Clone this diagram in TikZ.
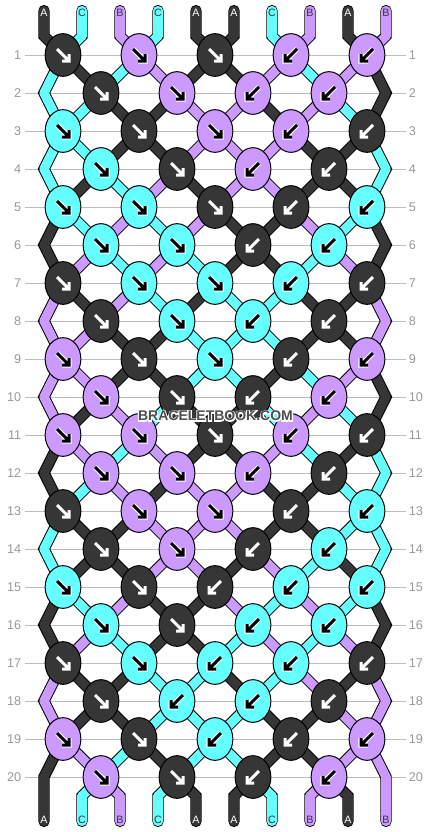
\documentclass[tikz,border=0pt]{standalone}
\usepackage{fontspec}
\setmainfont{Liberation Sans}
\usetikzlibrary{shapes.geometric}

\definecolor{colA}{HTML}{363636}
\definecolor{colB}{HTML}{CC99FF}
\definecolor{colC}{HTML}{66FFFF}
\definecolor{rowgray}{HTML}{BDBDBD}
\definecolor{numgray}{HTML}{999999}
\definecolor{markgray}{HTML}{4E4E4E}

% string order after each row
\expandafter\def\csname st0\endcsname{A,C,B,C,A,A,C,B,A,B}
\expandafter\def\csname st1\endcsname{C,A,C,B,A,A,B,C,B,A}
\expandafter\def\csname st2\endcsname{C,C,A,A,B,B,A,B,C,A}
\expandafter\def\csname st3\endcsname{C,C,A,A,B,B,B,A,A,C}
\expandafter\def\csname st4\endcsname{C,A,C,B,A,B,B,A,A,C}
\expandafter\def\csname st5\endcsname{A,C,B,C,B,A,A,B,C,A}
\expandafter\def\csname st6\endcsname{A,B,C,B,C,A,A,C,B,A}
\expandafter\def\csname st7\endcsname{B,A,B,C,A,C,C,A,A,B}
\expandafter\def\csname st8\endcsname{B,B,A,A,C,C,C,A,A,B}
\expandafter\def\csname st9\endcsname{B,B,A,A,C,C,A,C,B,A}
\expandafter\def\csname st10\endcsname{B,A,B,C,A,A,C,B,C,A}
\expandafter\def\csname st11\endcsname{A,B,C,B,A,A,B,C,A,C}
\expandafter\def\csname st12\endcsname{A,C,B,A,B,B,A,A,C,C}
\expandafter\def\csname st13\endcsname{C,A,A,B,B,B,A,A,C,C}
\expandafter\def\csname st14\endcsname{C,A,A,B,B,A,B,C,A,C}
\expandafter\def\csname st15\endcsname{A,C,B,A,A,B,C,B,C,A}
\expandafter\def\csname st16\endcsname{A,B,C,A,A,C,B,C,B,A}
\expandafter\def\csname st17\endcsname{B,A,A,C,C,A,C,B,A,B}
\expandafter\def\csname st18\endcsname{B,A,A,C,C,C,A,A,B,B}
\expandafter\def\csname st19\endcsname{A,B,C,A,C,C,A,A,B,B}
\expandafter\def\csname st20\endcsname{A,C,B,C,A,A,C,B,A,B}

% knots per row: colour / direction
\expandafter\def\csname kn1\endcsname{A/R,B/R,A/R,B/L,B/L}
\expandafter\def\csname kn2\endcsname{A/R,B/R,B/L,B/L}
\expandafter\def\csname kn3\endcsname{C/R,A/R,B/R,B/L,A/L}
\expandafter\def\csname kn4\endcsname{C/R,A/R,B/L,A/L}
\expandafter\def\csname kn5\endcsname{C/R,C/R,A/R,A/L,C/L}
\expandafter\def\csname kn6\endcsname{C/R,C/R,A/L,C/L}
\expandafter\def\csname kn7\endcsname{A/R,C/R,C/R,C/L,A/L}
\expandafter\def\csname kn8\endcsname{A/R,C/R,C/L,A/L}
\expandafter\def\csname kn9\endcsname{B/R,A/R,C/R,A/L,B/L}
\expandafter\def\csname kn10\endcsname{B/R,A/R,A/L,B/L}
\expandafter\def\csname kn11\endcsname{B/R,B/R,A/R,B/L,A/L}
\expandafter\def\csname kn12\endcsname{B/R,B/R,B/L,A/L}
\expandafter\def\csname kn13\endcsname{A/R,B/R,B/R,A/L,C/L}
\expandafter\def\csname kn14\endcsname{A/R,B/R,A/L,C/L}
\expandafter\def\csname kn15\endcsname{C/R,A/R,A/L,C/L,C/L}
\expandafter\def\csname kn16\endcsname{C/R,A/R,C/L,C/L}
\expandafter\def\csname kn17\endcsname{A/R,C/R,C/L,C/L,A/L}
\expandafter\def\csname kn18\endcsname{A/R,C/L,C/L,A/L}
\expandafter\def\csname kn19\endcsname{B/R,A/R,C/L,A/L,B/L}
\expandafter\def\csname kn20\endcsname{B/R,A/R,A/L,B/L}

\newcommand\marktext{BRACELETBOOK.COM}

\begin{document}
\begin{tikzpicture}[x=0.75pt,y=-0.75pt,
  outl/.style={draw=black,line width=8.4pt,line join=miter,line cap=round},
  seg/.style={line width=6.9pt,line join=miter,line cap=round},
  knot/.style={ellipse,draw=black,line width=0.75pt,minimum width=26.8pt,minimum height=32pt,inner sep=0pt},
  rownum/.style={text=numgray,font=\fontsize{9.5pt}{11pt}\selectfont,inner xsep=2.25pt,inner ysep=0pt},
  rowline/.style={draw=rowgray,line width=0.75pt},
  lbl/.style={font=\fontsize{8pt}{9pt}\selectfont,inner sep=0pt},
  arrline/.style={line width=2.25pt,line join=miter},
  arrhalo/.style={draw=white,line width=3.8pt,line join=miter},
]
\useasboundingbox (0,0) rectangle (430,832);

% position coordinates
\foreach \r in {0,...,21}{
  \foreach \i in {0,...,9}{
    \pgfmathsetmacro\px{(\r==0 || \r==21) ? 44+38*\i : (mod(\r,2)==1 ? 63+76*floor(\i/2) : (\i==0 ? 44 : (\i==9 ? 386 : 101+76*floor((\i-1)/2))))}
    \pgfmathsetmacro\py{\r==0 ? 36 : (\r==21 ? 796 : 55+38*(\r-1))}
    \coordinate (p-\r-\i) at (\px,\py);
  }
}
\foreach \i in {0,...,9}{
  \coordinate (t-\i) at (44+38*\i,10.5);
  \coordinate (b-\i) at (44+38*\i,821.5);
}

% row numbers and guide lines
\foreach \r in {1,...,20}{
  \pgfmathsetmacro\yy{55+38*(\r-1)}
  \node[rownum,anchor=east] (ln-\r) at (24.5,\yy) {\r};
  \node[rownum,anchor=west] (rn-\r) at (405.5,\yy) {\r};
  \draw[rowline] (ln-\r.east) -- (rn-\r.west);
}

% string outlines
\foreach \i in {0,...,9}{
  \draw[outl] (t-\i) -- (p-0-\i) \foreach \r in {1,...,21}{ -- (p-\r-\i)} -- (b-\i);
}

% coloured string segments
\edef\lst{\csname st0\endcsname}
\foreach \sc [count=\i from 0] in \lst {
  \draw[seg,draw=col\sc] (t-\i) -- (p-0-\i);
}
\foreach \r in {0,...,20}{
  \pgfmathtruncatemacro\rn{\r+1}
  \edef\lst{\csname st\r\endcsname}
  \foreach \sc [count=\i from 0] in \lst {
    \draw[seg,draw=col\sc] (p-\r-\i) -- (p-\rn-\i);
  }
}
\edef\lst{\csname st20\endcsname}
\foreach \sc [count=\i from 0] in \lst {
  \draw[seg,draw=col\sc] (p-21-\i) -- (b-\i);
}

% knots with arrows
\foreach \r in {1,...,20}{
  \edef\kl{\csname kn\r\endcsname}
  \foreach \kc/\kd [count=\j from 0] in \kl {
    \pgfmathtruncatemacro\li{mod(\r,2)==1 ? 2*\j : 2*\j+1}
    \node[knot,fill=col\kc] (k-\r-\j) at (p-\r-\li) {};
    \if\kc A\def\acol{white}\else\def\acol{black}\fi
    \begin{scope}[shift={(k-\r-\j.center)}]
      \if\kd R
        \if\kc A\else\draw[arrhalo] (-6,-6) -- (6,6) (6,-1) -- (6,6) -- (-1,6);\fi
        \draw[arrline,draw=\acol] (-6,-6) -- (6,6) (6,-1) -- (6,6) -- (-1,6);
      \else
        \if\kc A\else\draw[arrhalo] (6,-6) -- (-6,6) (-6,-1) -- (-6,6) -- (1,6);\fi
        \draw[arrline,draw=\acol] (6,-6) -- (-6,6) (-6,-1) -- (-6,6) -- (1,6);
      \fi
    \end{scope}
  }
}

% string labels
\edef\lst{\csname st0\endcsname}
\foreach \sc [count=\i from 0] in \lst {
  \if\sc A\def\tc{white}\else\def\tc{colA}\fi
  \node[lbl,text=\tc] (top-\i) at (44+38*\i,12.5) {\sc};
}
\edef\lst{\csname st20\endcsname}
\foreach \sc [count=\i from 0] in \lst {
  \if\sc A\def\tc{white}\else\def\tc{colA}\fi
  \node[lbl,text=\tc] (bot-\i) at (44+38*\i,820) {\sc};
}

% watermark: white stroked outline underneath, grey fill on top
\node[font=\bfseries\fontsize{10.5pt}{12pt}\selectfont,text=markgray,inner sep=0pt] (mark) at (215.5,416)
  {\rlap{\special{pdf:literal direct 1 Tr 1.6 w 1 1 1 RG}\marktext\special{pdf:literal direct 0 Tr}}\marktext};
\end{tikzpicture}
\end{document}
